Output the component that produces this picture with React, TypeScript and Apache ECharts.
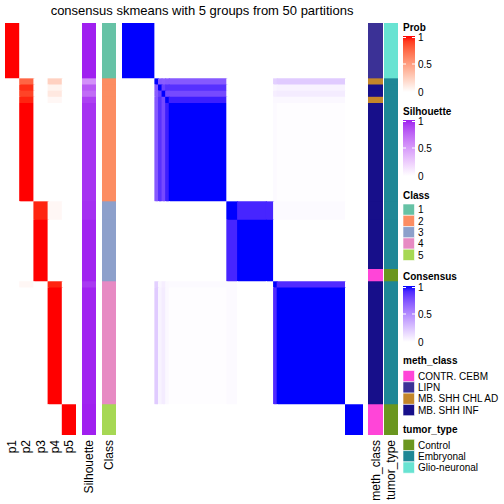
import React, { useEffect, useRef } from "react";
import * as echarts from "echarts";

const chartTitle = "consensus skmeans with 5 groups from 50 partitions";
const probNames = ["p1", "p2", "p3", "p4", "p5"];
const classNames = ["1", "2", "3", "4", "5"];
const classColors = ["#66C2A5", "#FC8D62", "#8DA0CB", "#E78AC3", "#A6D854"];
const methNames = ["CONTR. CEBM", "LIPN", "MB. SHH CHL AD", "MB. SHH INF"];
const methColors = ["#FF45D8", "#3B3196", "#C3862A", "#170F8A"];
const tumorNames = ["Control", "Embryonal", "Glio-neuronal"];
const tumorColors = ["#6A961F", "#1E8796", "#68E3D2"];

// consecutive runs of samples (display order, top to bottom / left to right)
const groupSizes = [9, 1, 1, 1, 1, 16, 3, 8, 2, 1, 19, 5];
const groupClass = [1, 2, 2, 2, 2, 2, 3, 3, 3, 4, 4, 5];
const groupProb = [
  [1, 0, 0, 0, 0],
  [0, 0.76, 0, 0.24, 0],
  [0, 0.94, 0, 0.06, 0],
  [0, 0.88, 0, 0.12, 0],
  [0, 0.96, 0, 0.04, 0],
  [0, 1, 0, 0, 0],
  [0, 0, 0.96, 0.04, 0],
  [0, 0, 1, 0, 0],
  [0, 0, 1, 0, 0],
  [0, 0.04, 0, 0.96, 0],
  [0, 0, 0, 1, 0],
  [0, 0, 0, 0, 1],
];
const groupSilhouette = [1, 0.55, 0.8, 0.72, 0.9, 0.95, 0.96, 0.99, 0.99, 0.93, 0.99, 1];
const groupMeth = [
  "LIPN", "MB. SHH CHL AD", "MB. SHH INF", "MB. SHH INF", "MB. SHH CHL AD", "MB. SHH INF",
  "MB. SHH INF", "MB. SHH INF", "CONTR. CEBM", "MB. SHH INF", "MB. SHH INF", "CONTR. CEBM",
];
const groupTumor = [
  "Glio-neuronal", "Embryonal", "Embryonal", "Embryonal", "Embryonal", "Embryonal",
  "Embryonal", "Embryonal", "Control", "Embryonal", "Embryonal", "Control",
];
const groupConsensus = [
  [1, 0, 0, 0, 0, 0, 0, 0, 0, 0, 0, 0],
  [0, 1, 0.72, 0.7, 0.72, 0.72, 0, 0, 0, 0.2, 0.22, 0],
  [0, 0.72, 1, 0.82, 0.88, 0.88, 0, 0, 0, 0.04, 0.05, 0],
  [0, 0.7, 0.82, 1, 0.78, 0.78, 0, 0, 0, 0.07, 0.08, 0],
  [0, 0.72, 0.88, 0.78, 1, 0.94, 0, 0, 0, 0.03, 0.03, 0],
  [0, 0.72, 0.88, 0.78, 0.94, 1, 0, 0, 0, 0.02, 0.01, 0],
  [0, 0, 0, 0, 0, 0, 1, 0.92, 0.92, 0.02, 0.02, 0],
  [0, 0, 0, 0, 0, 0, 0.92, 1, 1, 0, 0, 0],
  [0, 0, 0, 0, 0, 0, 0.92, 1, 1, 0, 0, 0],
  [0, 0.2, 0.04, 0.07, 0.03, 0.02, 0.02, 0, 0, 1, 0.9, 0],
  [0, 0.22, 0.05, 0.08, 0.03, 0.01, 0.02, 0, 0, 0.9, 1, 0],
  [0, 0, 0, 0, 0, 0, 0, 0, 0, 0, 0, 1],
];
const legendTicks = ["1", "0.5", "0"];

const FONT = "'Liberation Sans', Arial, Helvetica, sans-serif";

// ---- LAB colour interpolation (like colorRamp2) ----
function toLin(c: number) {
  c /= 255;
  return c <= 0.04045 ? c / 12.92 : Math.pow((c + 0.055) / 1.055, 2.4);
}
function fromLin(c: number) {
  c = Math.max(0, Math.min(1, c));
  return Math.round(255 * (c <= 0.0031308 ? 12.92 * c : 1.055 * Math.pow(c, 1 / 2.4) - 0.055));
}
function hexToLab(hex: string) {
  const r = toLin(parseInt(hex.slice(1, 3), 16));
  const g = toLin(parseInt(hex.slice(3, 5), 16));
  const b = toLin(parseInt(hex.slice(5, 7), 16));
  const X = (0.4124 * r + 0.3576 * g + 0.1805 * b) / 0.95047;
  const Y = 0.2126 * r + 0.7152 * g + 0.0722 * b;
  const Z = (0.0193 * r + 0.1192 * g + 0.9505 * b) / 1.08883;
  const f = (t: number) => (t > 0.008856 ? Math.cbrt(t) : 7.787 * t + 16 / 116);
  const fx = f(X), fy = f(Y), fz = f(Z);
  return [116 * fy - 16, 500 * (fx - fy), 200 * (fy - fz)];
}
function labToHex(L: number, a: number, b: number) {
  const fy = (L + 16) / 116;
  const fx = fy + a / 500;
  const fz = fy - b / 200;
  const fi = (t: number) => (t * t * t > 0.008856 ? t * t * t : (t - 16 / 116) / 7.787);
  const X = 0.95047 * fi(fx), Y = fi(fy), Z = 1.08883 * fi(fz);
  const r = 3.2406 * X - 1.5372 * Y - 0.4986 * Z;
  const g = -0.9689 * X + 1.8758 * Y + 0.0415 * Z;
  const bb = 0.0557 * X - 0.204 * Y + 1.057 * Z;
  const h = (v: number) => fromLin(v).toString(16).padStart(2, "0");
  return "#" + h(r) + h(g) + h(bb);
}
function ramp(hi: string) {
  const w = hexToLab("#FFFFFF");
  const c = hexToLab(hi);
  return (v: number) => {
    const t = Math.max(0, Math.min(1, v));
    return labToHex(w[0] + (c[0] - w[0]) * t, w[1] + (c[1] - w[1]) * t, w[2] + (c[2] - w[2]) * t);
  };
}
const probColor = ramp("#FF0000");
const silColor = ramp("#A020F0");
const consColor = ramp("#0000FF");

export default function App() {
  const ref = useRef<HTMLDivElement>(null);
  useEffect(() => {
    if (!ref.current) return;
    const chart = echarts.init(ref.current, null, { renderer: "svg" });

    // sample index ranges of each group
    const starts: number[] = [];
    let acc = 0;
    groupSizes.forEach((s) => {
      starts.push(acc);
      acc += s;
    });
    const N = acc;
    const sampleIds = Array.from({ length: N }, (_, i) => "s" + (i + 1));
    const G = groupSizes.length;
    const first = (g: number) => starts[g];
    const last = (g: number) => starts[g] + groupSizes[g] - 1;

    // block items: [x0, x1, y0, y1, value]
    const probData: number[][] = [];
    const silData: number[][] = [];
    const classData: number[][] = [];
    const consData: number[][] = [];
    const methData: number[][] = [];
    const tumorData: number[][] = [];
    for (let g = 0; g < G; g++) {
      const y0 = first(g), y1 = last(g);
      for (let k = 0; k < 5; k++) probData.push([k, k, y0, y1, groupProb[g][k]]);
      silData.push([0, 0, y0, y1, groupSilhouette[g]]);
      classData.push([0, 0, y0, y1, groupClass[g] - 1]);
      methData.push([0, 0, y0, y1, methNames.indexOf(groupMeth[g])]);
      tumorData.push([0, 0, y0, y1, tumorNames.indexOf(groupTumor[g])]);
      for (let h = 0; h < G; h++) consData.push([first(h), last(h), y0, y1, groupConsensus[g][h]]);
    }

    const grids = [
      { left: 5, width: 71, cats: probNames, label: true },
      { left: 82, width: 14, cats: ["Silhouette"], label: true },
      { left: 102, width: 14, cats: ["Class"], label: true },
      { left: 122, width: 241, cats: sampleIds, label: false },
      { left: 368, width: 15, cats: ["meth_class"], label: true },
      { left: 384, width: 14, cats: ["tumor_type"], label: true },
    ];

    const mk = (gi: number, data: number[][], colorFn: (v: number) => string) => {
      const nx = grids[gi].cats.length;
      return {
        type: "custom",
        xAxisIndex: gi,
        yAxisIndex: gi,
        progressive: 0,
        encode: { x: [0, 1], y: [2, 3] },
        data,
        renderItem: (params: any, api: any) => {
          const x0 = api.value(0), x1 = api.value(1);
          const y0 = api.value(2), y1 = api.value(3);
          const a = api.coord([x0, y0]);
          const b = api.coord([x1, y1]);
          const s = api.size([1, 1]);
          const col = colorFn(api.value(4));
          const ex = x1 < nx - 1 ? 1 : 0;
          const ey = y1 < N - 1 ? 1 : 0;
          return {
            type: "rect",
            shape: {
              x: a[0] - s[0] / 2,
              y: a[1] - s[1] / 2,
              width: b[0] - a[0] + s[0] + ex,
              height: b[1] - a[1] + s[1] + ey,
            },
            style: { fill: col },
          };
        },
      };
    };

    const graphics: any[] = [];
    graphics.push({
      type: "text",
      x: 202,
      y: 10,
      style: {
        text: chartTitle,
        font: `13px ${FONT}`,
        fill: "#000",
        textAlign: "center",
        textVerticalAlign: "middle",
      },
    });
    const LX = 403;
    const legendTitle = (t: string, y: number) =>
      graphics.push({
        type: "text",
        x: LX,
        y,
        style: { text: t, font: `bold 10px ${FONT}`, fill: "#000", textVerticalAlign: "middle" },
      });
    const legendLabel = (t: string, y: number) =>
      graphics.push({
        type: "text",
        x: LX + 15,
        y,
        style: { text: t, font: `10px ${FONT}`, fill: "#000", textVerticalAlign: "middle" },
      });
    const gradLegend = (t: string, titleY: number, top: number, fn: (v: number) => string) => {
      legendTitle(t, titleY);
      const h = 56;
      const stops = [];
      for (let k = 0; k <= 10; k++) stops.push({ offset: k / 10, color: fn(1 - k / 10) });
      graphics.push({
        type: "rect",
        shape: { x: LX, y: top, width: 12, height: h },
        style: { fill: new echarts.graphic.LinearGradient(0, 0, 0, 1, stops) },
      });
      const tickYs = [top + 1.5, top + h / 2, top + h];
      legendTicks.forEach((lab, k) => {
        legendLabel(lab, tickYs[k]);
        if (k < 2) {
          graphics.push({
            type: "line",
            shape: { x1: LX, y1: tickYs[k], x2: LX + 3, y2: tickYs[k] },
            style: { stroke: "#fff", lineWidth: 1 },
          });
          graphics.push({
            type: "line",
            shape: { x1: LX + 9, y1: tickYs[k], x2: LX + 12, y2: tickYs[k] },
            style: { stroke: "#fff", lineWidth: 1 },
          });
        }
      });
    };
    const boxLegend = (t: string, titleY: number, top: number, names: string[], colors: string[]) => {
      legendTitle(t, titleY);
      names.forEach((n, k) => {
        const y = top + k * 11.3;
        graphics.push({
          type: "rect",
          shape: { x: LX, y, width: 11.5, height: 11.3 },
          style: { fill: colors[k], stroke: "#fff", lineWidth: 0.6 },
        });
        legendLabel(n, y + 5.8);
      });
    };
    gradLegend("Prob", 27, 36, probColor);
    gradLegend("Silhouette", 111, 120, silColor);
    boxLegend("Class", 195, 204, classNames, classColors);
    gradLegend("Consensus", 276, 286, consColor);
    boxLegend("meth_class", 360, 370.5, methNames, methColors);
    boxLegend("tumor_type", 429, 439.3, tumorNames, tumorColors);

    chart.setOption({
      animation: false,
      grid: grids.map((g) => ({ left: g.left, width: g.width, top: 23, height: 412 })),
      xAxis: grids.map((g, gi) => ({
        type: "category",
        gridIndex: gi,
        data: g.cats,
        position: "bottom",
        axisLine: { show: false },
        axisTick: { show: false },
        splitLine: { show: false },
        axisLabel: {
          show: g.label,
          rotate: 90,
          interval: 0,
          margin: 5,
          fontSize: 12,
          fontFamily: FONT,
          color: "#000",
        },
      })),
      yAxis: grids.map((g, gi) => ({
        type: "category",
        gridIndex: gi,
        data: sampleIds,
        inverse: true,
        show: false,
      })),
      series: [
        mk(0, probData, probColor),
        mk(1, silData, silColor),
        mk(2, classData, (v) => classColors[v]),
        mk(3, consData, consColor),
        mk(4, methData, (v) => methColors[v]),
        mk(5, tumorData, (v) => tumorColors[v]),
      ],
      graphic: graphics,
    });
    return () => chart.dispose();
  }, []);
  return (
    <div
      ref={ref}
      style={{ position: "fixed", left: 0, top: 0, width: 504, height: 504, background: "#fff" }}
    />
  );
}
